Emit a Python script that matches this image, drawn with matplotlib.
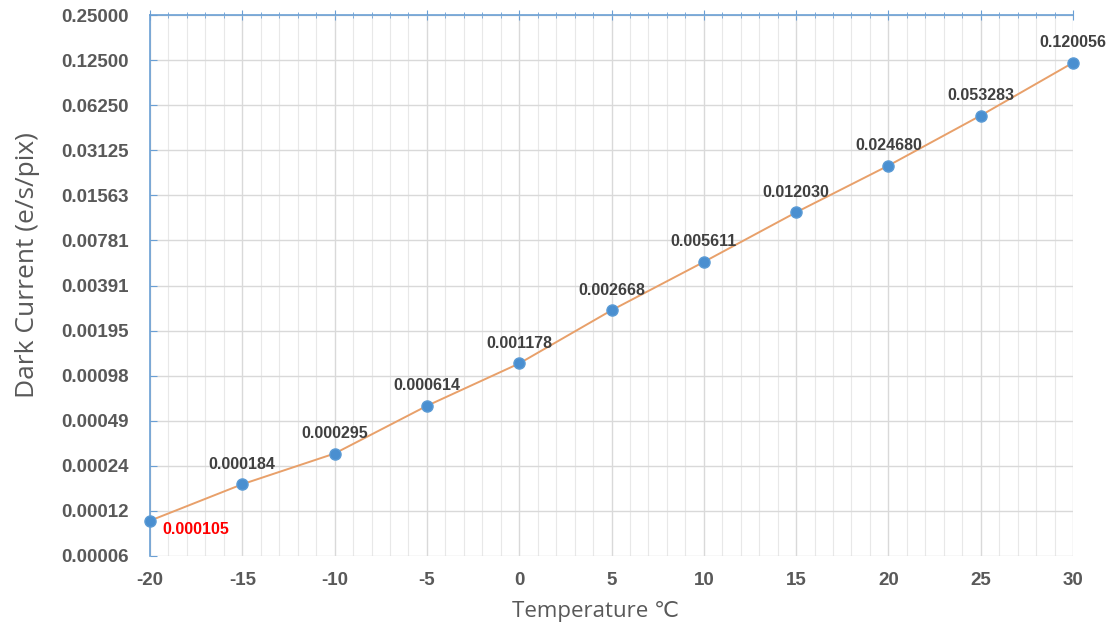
"""Dark current vs temperature on a log2 scale."""

import matplotlib

matplotlib.use("Agg")
import matplotlib.pyplot as plt
from matplotlib.ticker import FixedLocator, MultipleLocator

temperatures = [-20, -15, -10, -5, 0, 5, 10, 15, 20, 25, 30]
dark_current = [0.000105, 0.000184, 0.000295, 0.000614, 0.001178, 0.002668,
                0.005611, 0.012030, 0.024680, 0.053283, 0.120056]
point_labels = ["0.000105", "0.000184", "0.000295", "0.000614", "0.001178",
                "0.002668", "0.005611", "0.012030", "0.024680", "0.053283",
                "0.120056"]
y_ticks = [0.25 / 2 ** k for k in range(13)]
y_tick_labels = ["0.25000", "0.12500", "0.06250", "0.03125", "0.01563",
                 "0.00781", "0.00391", "0.00195", "0.00098", "0.00049",
                 "0.00024", "0.00012", "0.00006"]
x_ticks = list(range(-20, 31, 5))

SPINE = "#6a9fd4"
GRID = "#d9d9d9"
TEXT = "#595959"

plt.rcParams["font.family"] = ["Liberation Sans", "DejaVu Sans"]

fig = plt.figure(figsize=(11.15, 6.32), dpi=100)
ax = fig.add_axes([150 / 1115, 76 / 632, 923 / 1115, 541 / 632])

ax.plot(temperatures, dark_current, color="#e8a06a", lw=1.4, zorder=2)
ax.plot(temperatures, dark_current, "o", color="#4a8fd0", ms=8, zorder=3,
        markeredgecolor="#5b9bd5", clip_on=False)

ax.set_yscale("log", base=2)
ax.set_ylim(y_ticks[-1], y_ticks[0])
ax.set_xlim(-20, 30)
ax.yaxis.set_major_locator(FixedLocator(y_ticks))
ax.yaxis.set_minor_locator(FixedLocator([]))
ax.set_yticks(y_ticks, y_tick_labels)
ax.set_xticks(x_ticks, [str(t) for t in x_ticks])
ax.xaxis.set_minor_locator(MultipleLocator(1))

ax.grid(True, which="major", color=GRID, lw=1.0)
ax.grid(True, which="minor", axis="x", color="#e8e8e8", lw=0.8)
ax.set_axisbelow(True)

for side in ["right", "bottom"]:
    ax.spines[side].set_visible(False)
for side in ["top", "left"]:
    ax.spines[side].set_color(SPINE)
    ax.spines[side].set_linewidth(1.2)

ax.tick_params(axis="y", which="major", direction="in", length=5,
               color=SPINE, labelsize=13.5, labelcolor=TEXT, pad=15)
ax.tick_params(axis="x", which="both", top=True, bottom=False,
               direction="inout", color=SPINE, labelsize=13.5,
               labelcolor=TEXT, pad=8)
ax.tick_params(axis="x", which="major", length=7)
ax.tick_params(axis="x", which="minor", length=5)
for lab in ax.get_xticklabels() + ax.get_yticklabels():
    lab.set_fontweight("bold")

label_font = ["Open Sans", "DejaVu Sans"]
ax.set_xlabel("Temperature ℃", fontsize=16, color=TEXT, family=label_font)
ax.set_ylabel("Dark Current (e/s/pix)", fontsize=19, color=TEXT,
              family=label_font)
ax.xaxis.set_label_coords(445 / 923, -45 / 541)
ax.yaxis.set_label_coords(-110 / 923, 291 / 541)

for i, (t, v, s) in enumerate(zip(temperatures, dark_current, point_labels)):
    if i == 0:
        ax.annotate(s, (t, v), xytext=(9, -6), textcoords="offset points",
                    ha="left", va="center", fontsize=11.5, fontweight="bold",
                    color="#ff0000")
    else:
        ax.annotate(s, (t, v), xytext=(0, 9), textcoords="offset points",
                    ha="center", va="bottom", fontsize=11.5,
                    fontweight="bold", color="#404040")

fig.savefig("out.png", dpi=100)
plt.close(fig)
